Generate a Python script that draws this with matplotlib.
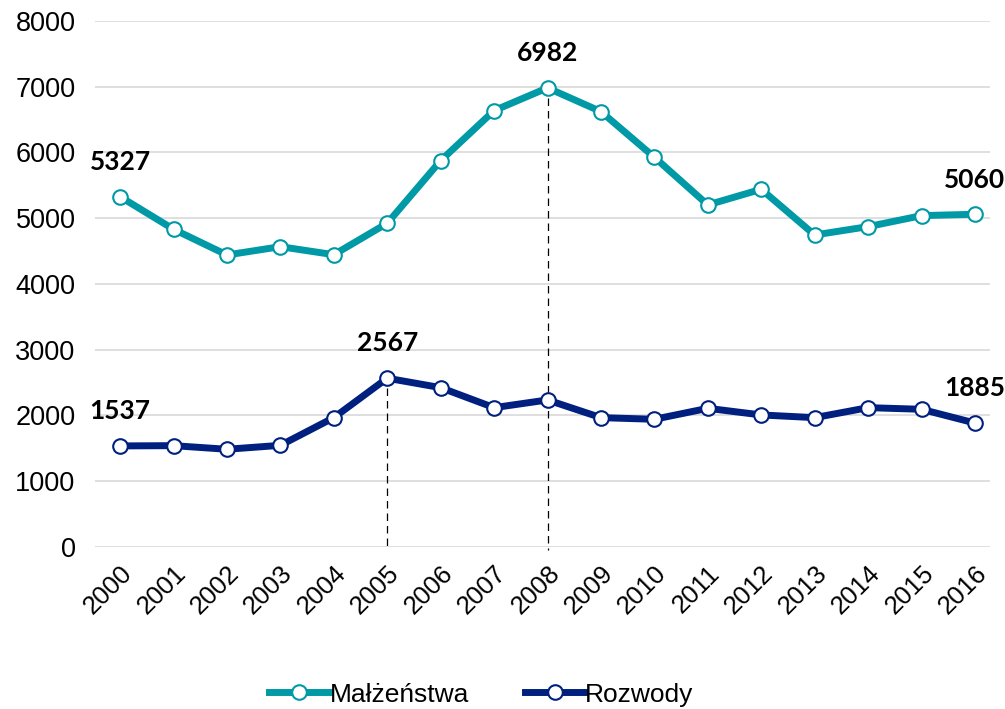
import matplotlib.pyplot as plt

years = [str(y) for y in range(2000, 2017)]
malzenstwa = [5327, 4832, 4441, 4567, 4445, 4923, 5875, 6636, 6982,
              6621, 5927, 5202, 5440, 4745, 4872, 5039, 5060]
rozwody = [1537, 1541, 1486, 1546, 1967, 2567, 2423, 2119, 2236,
           1967, 1942, 2109, 2008, 1967, 2119, 2094, 1885]
labels_m = [0, 8, 16]
labels_r = [0, 5, 16]
drops = [(5, rozwody), (8, malzenstwa)]

c_m = '#0099A6'
c_r = '#00207F'

plt.rcParams['font.family'] = ['Liberation Sans', 'DejaVu Sans']

fig = plt.figure(figsize=(10.05, 7.09), dpi=100)
ax = fig.add_axes([0.0945, 0.2285, 0.8905, 0.742])

x = list(range(len(years)))
ax.plot(x, malzenstwa, color=c_m, lw=5, marker='o', ms=10.5,
        mfc='white', mec=c_m, mew=1.5, label='Małżeństwa', zorder=3)
ax.plot(x, rozwody, color=c_r, lw=5, marker='o', ms=10.5,
        mfc='white', mec=c_r, mew=1.5, label='Rozwody', zorder=3)

# pionowe linie przerywane od wybranych punktow do osi
for i, series in drops:
    ax.plot([i, i], [series[i] - 150, -50], color='black', lw=0.9,
            ls=(0, (6, 4)), clip_on=False, zorder=2)

for series, idx in ((malzenstwa, labels_m), (rozwody, labels_r)):
    for i in idx:
        ax.annotate(str(series[i]), (i, series[i]), xytext=(0, 25),
                    textcoords='offset points', ha='center', va='center',
                    fontsize=19, fontweight='bold', family=['Lato', 'DejaVu Sans'])

ax.set_xlim(-0.47, 16.28)
ax.set_ylim(0, 8000)
ax.set_yticks(range(0, 8001, 1000))
ax.set_xticks(x)
ax.set_xticklabels(years, rotation=45, ha='right', va='top',
                   rotation_mode='anchor', fontsize=18.5)
ax.tick_params(axis='y', labelsize=19.5, length=0, pad=14)
ax.tick_params(axis='x', length=0, pad=10)
ax.grid(axis='y', color='#D9D9D9', lw=1.2)
ax.set_axisbelow(True)
for s in ax.spines.values():
    s.set_visible(False)

fig.legend(loc='lower center', bbox_to_anchor=(0.479, -0.03), ncol=2,
           frameon=False, fontsize=19, handlelength=2.3, columnspacing=2.1,
           handletextpad=0.0)

fig.savefig('out.png', dpi=100)
